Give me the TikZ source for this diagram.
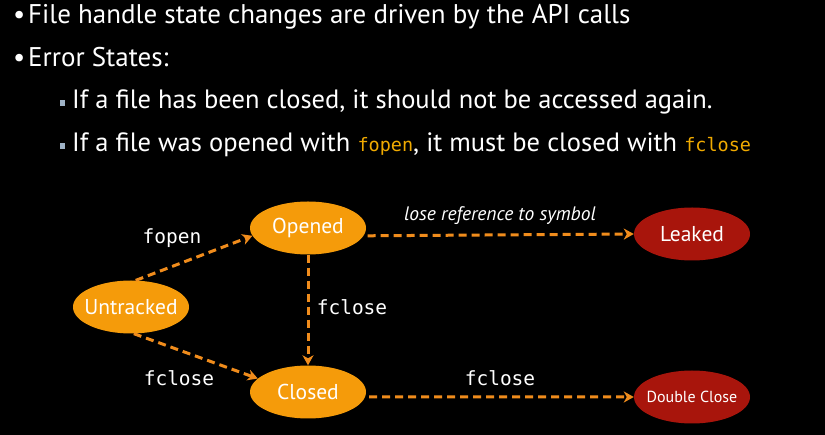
\documentclass[tikz,border=0pt]{standalone}
\usepackage{fontspec}
\setmainfont{PT Sans}
\setsansfont{PT Sans}
\setmonofont{DejaVu Sans Mono}
\usetikzlibrary{shapes.geometric,arrows.meta}

\definecolor{stateorange}{HTML}{F59B0A}
\definecolor{errorred}{HTML}{A8150C}
\definecolor{edgeorange}{HTML}{F08C1C}
\definecolor{codeyellow}{HTML}{F0AA00}
\definecolor{bulletgray}{HTML}{9FB2C6}

\newcommand{\codeword}[1]{\textcolor{codeyellow}{\ttfamily\fontsize{18.5}{18.5}\selectfont #1}}
% state names take no width, so every ellipse keeps its fixed size
\newcommand{\statename}[1]{\makebox[0pt]{#1}}

\tikzset{
  state/.style={ellipse, fill=stateorange, text=white, minimum width=116pt,
    minimum height=53pt, inner sep=0pt, font=\fontsize{21.5}{21.5}\selectfont},
  errstate/.style={state, fill=errorred},
  trans/.style={edgeorange, line width=3pt, dash pattern=on 8pt off 5pt,
    -{Stealth[length=10pt,width=11pt,inset=3pt]}},
  codelabel/.style={text=white, font=\ttfamily\fontsize{19.5}{19.5}\selectfont},
  bodytext/.style={anchor=base west, text=white, inner sep=0pt},
}

\begin{document}
\begin{tikzpicture}[x=1pt, y=-1pt]
  \fill[black] (0,0) rectangle (825,435);
  \useasboundingbox (0,0) rectangle (825,435);

  % bullet list
  \node[bodytext, font=\fontsize{27}{27}\selectfont] (b1) at (13,24) {•};
  \node[bodytext, font=\fontsize{27}{27}\selectfont] (t1) at (28,24)
    {File handle state changes are driven by the API calls};
  \node[bodytext, font=\fontsize{27}{27}\selectfont] (b2) at (13,67) {•};
  \node[bodytext, font=\fontsize{27}{27}\selectfont] (t2) at (28,67) {Error States:};

  \fill[bulletgray] (60,100) rectangle (65,106);
  \node[bodytext, font=\fontsize{26.5}{26.5}\selectfont] (t3) at (72,109)
    {If a file has been closed, it should not be accessed again.};
  \fill[bulletgray] (60,143) rectangle (65,149);
  \node[bodytext, font=\fontsize{26.5}{26.5}\selectfont] (t4) at (72,152)
    {If a file was opened with \codeword{fopen}, it must be closed with \codeword{fclose}};

  % states
  \node[state] (U) at (131,307) {\statename{Untracked}};
  \node[state] (O) at (308,228) {\statename{Opened}};
  \node[state] (C) at (308,392) {\statename{Closed}};
  \node[errstate] (L) at (692,234) {\statename{Leaked}};
  \node[errstate, font=\fontsize{16}{16}\selectfont] (D) at (692,397) {\statename{Double Close}};

  % transitions
  \draw[trans] (U.80) -- (O.188);
  \draw[trans] (U.-84) -- (C.165);
  \draw[trans] (O.south) -- (C.north);
  \draw[trans, shorten <=4pt] (O.-8) -- (L.west);
  \draw[trans, shorten <=4pt] (C.-5) -- (D.west);

  % transition labels
  \node[codelabel] (lfopen) at (172,238) {fopen};
  \node[codelabel] (lclose1) at (352,307) {fclose};
  \node[codelabel] (lclose2) at (179,378) {fclose};
  \node[codelabel] (lclose3) at (500,378) {fclose};
  \node[text=white, font=\itshape\fontsize{19.5}{19.5}\selectfont] (lleak) at (500,216)
    {lose reference to symbol};
\end{tikzpicture}
\end{document}
